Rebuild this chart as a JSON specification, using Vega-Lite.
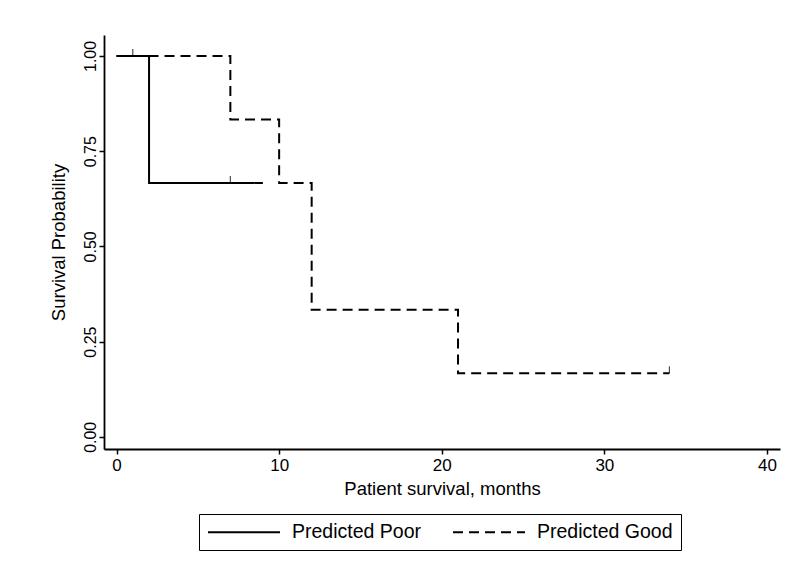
{
  "$schema": "https://vega.github.io/schema/vega-lite/v6.json",
  "autosize": "none",
  "width": 676,
  "height": 414,
  "padding": {"left": 104, "top": 35, "right": 28, "bottom": 130},
  "background": "white",
  "config": {
    "view": {"stroke": null},
    "font": "Liberation Sans",
    "axis": {
      "grid": false,
      "domainColor": "black",
      "domainWidth": 1.8,
      "tickColor": "black",
      "tickWidth": 1.5,
      "tickSize": 5,
      "labelColor": "black",
      "titleColor": "black",
      "labelFont": "Liberation Sans",
      "titleFont": "Liberation Sans",
      "titleFontSize": 18.5,
      "titleFontWeight": "normal"
    }
  },
  "datasets": {
    "curves": [
      {"group": "Predicted Good", "time": 0, "surv": 1.0},
      {"group": "Predicted Good", "time": 7, "surv": 0.8333},
      {"group": "Predicted Good", "time": 10, "surv": 0.6667},
      {"group": "Predicted Good", "time": 12, "surv": 0.3333},
      {"group": "Predicted Good", "time": 21, "surv": 0.1667},
      {"group": "Predicted Good", "time": 34, "surv": 0.1667},
      {"group": "Predicted Poor", "time": 0, "surv": 1.0},
      {"group": "Predicted Poor", "time": 2, "surv": 0.6667},
      {"group": "Predicted Poor", "time": 9, "surv": 0.6667}
    ],
    "censor": [
      {"group": "Predicted Poor", "time": 1, "surv": 1.0},
      {"group": "Predicted Poor", "time": 7, "surv": 0.6667},
      {"group": "Predicted Good", "time": 34, "surv": 0.1667}
    ]
  },
  "layer": [
    {
      "data": {"name": "curves"},
      "mark": {"type": "line", "interpolate": "step-after", "color": "black", "strokeWidth": 2},
      "encoding": {
        "x": {
          "field": "time", "type": "quantitative",
          "scale": {"domain": [-0.77, 40.8], "nice": false, "zero": false},
          "axis": {"values": [0, 10, 20, 30, 40], "title": "Patient survival, months", "labelFontSize": 17, "labelPadding": 3, "titlePadding": 6}
        },
        "y": {
          "field": "surv", "type": "quantitative",
          "scale": {"domain": [-0.032, 1.055], "nice": false, "zero": false},
          "axis": {"values": [0, 0.25, 0.5, 0.75, 1], "format": ".2f", "title": "Survival Probability", "labelFontSize": 16, "labelAngle": -90, "labelAlign": "center", "labelBaseline": "bottom", "labelPadding": 1, "titlePadding": 14}
        },
        "strokeDash": {
          "field": "group", "type": "nominal",
          "scale": {"domain": ["Predicted Poor", "Predicted Good"], "range": [[1, 0], [10, 6]]},
          "legend": {
            "title": null,
            "orient": "none",
            "legendX": 95,
            "legendY": 479,
            "direction": "horizontal",
            "strokeColor": "black",
            "padding": 8,
            "symbolType": "M-1,0H7",
            "symbolSize": 324,
            "symbolStrokeWidth": 1.8,
            "symbolStrokeColor": "black",
            "labelFontSize": 19.5,
            "labelColor": "black",
            "labelFont": "Liberation Sans",
            "labelOffset": 65,
            "columnPadding": 28
          }
        },
        "order": {"field": "time", "type": "quantitative"}
      }
    },
    {
      "data": {"name": "censor"},
      "mark": {"type": "tick", "orient": "vertical", "color": "black", "size": 7, "thickness": 1.2, "yOffset": -3.5},
      "encoding": {
        "x": {"field": "time", "type": "quantitative"},
        "y": {"field": "surv", "type": "quantitative"}
      }
    }
  ]
}
